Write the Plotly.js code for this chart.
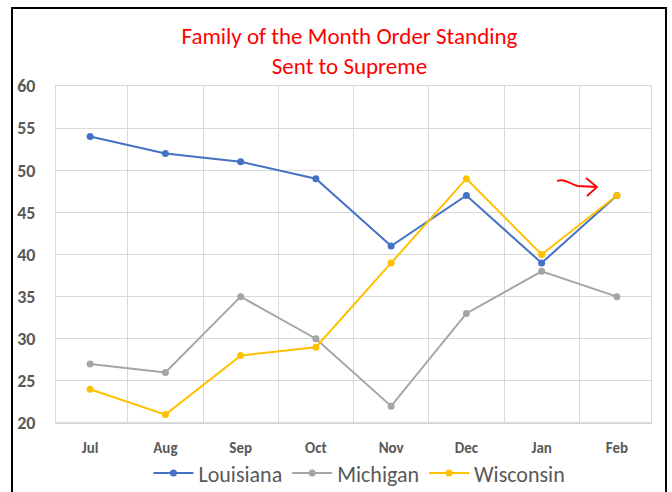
<!DOCTYPE html>
<html><head><meta charset="utf-8">
<script src="https://cdn.plot.ly/plotly-3.0.1.min.js"></script>
<style>body{margin:0;background:#fff}#chart{width:672px;height:492px}</style>
</head><body><div id="chart"></div>
<script>
const months = ["Jul","Aug","Sep","Oct","Nov","Dec","Jan","Feb"];
const louisiana = [54, 52, 51, 49, 41, 47, 39, 47];
const michigan = [27, 26, 35, 30, 22, 33, 38, 35];
const wisconsin = [24, 21, 28, 29, 39, 49, 40, 47];

function tr(name, y, color){
  return {type:"scatter", mode:"lines+markers", name:name, x:months, y:y,
    line:{color:color, width:2}, marker:{color:color, size:7}};
}
const data = [tr("Louisiana", louisiana, "#4472C4"), tr("Michigan", michigan, "#A5A5A5"), tr("Wisconsin", wisconsin, "#FFC000")];

const font = "Calibri, Carlito, 'Open Sans', 'Liberation Sans', sans-serif";
const L=56, R=651, T=86, B=423;
function px(x){return (x-L)/(R-L);}
function py(y){return (B-y)/(B-T);}
const arrow = `M ${px(557)} ${py(181)} C ${px(566)} ${py(178)}, ${px(571)} ${py(185)}, ${px(578)} ${py(186)} L ${px(597)} ${py(187)} M ${px(586)} ${py(178)} L ${px(597)} ${py(187)} L ${px(587)} ${py(196)}`;

const layout = {
  width:672, height:492,
  margin:{l:L, r:672-R, t:T, b:492-B},
  paper_bgcolor:"#fff", plot_bgcolor:"#fff",
  title:{text:"Family of the Month Order Standing<br>Sent to Supreme", font:{family:font, size:23, color:"#FF0000"},
    x:0.52, xanchor:"center", y:0.91, yanchor:"top"},
  xaxis:{type:"category", tickson:"boundaries", showgrid:true, gridcolor:"#D9D9D9", gridwidth:1,
    showline:true, mirror:true, linecolor:"#D9D9D9", linewidth:1, automargin:false,
    ticks:"", tickfont:{family:font, size:15, color:"#595959", weight:"bold"},
    ticklabelstandoff:11, zeroline:false},
  yaxis:{range:[20,60], dtick:5, showgrid:true, gridcolor:"#D9D9D9", gridwidth:1, zeroline:false,
    showline:true, mirror:true, linecolor:"#D9D9D9", linewidth:1, automargin:false,
    ticks:"", tickfont:{family:font, size:18, color:"#595959", weight:"bold"}, ticklabelstandoff:16},
  legend:{orientation:"h", x:0.51, xanchor:"center", yref:"container", y:0.038, yanchor:"middle",
    bgcolor:"rgba(0,0,0,0)", font:{family:font, size:22, color:"#595959"}, itemwidth:40, tracegroupgap:0},
  showlegend:true,
  shapes:[
    {type:"line", xref:"paper", yref:"paper", x0:0, x1:1, y0:0, y1:0, line:{color:"#D0D0D0", width:1.5}},
    {type:"rect", xref:"paper", yref:"paper", x0:px(12), x1:px(666), y0:py(8), y1:py(500), line:{color:"#000", width:2}, layer:"above"},
    {type:"path", xref:"paper", yref:"paper", path:arrow, line:{color:"#FF0000", width:1.8}}
  ]
};
Plotly.newPlot("chart", data, layout, {displayModeBar:false, staticPlot:true});
</script></body></html>
